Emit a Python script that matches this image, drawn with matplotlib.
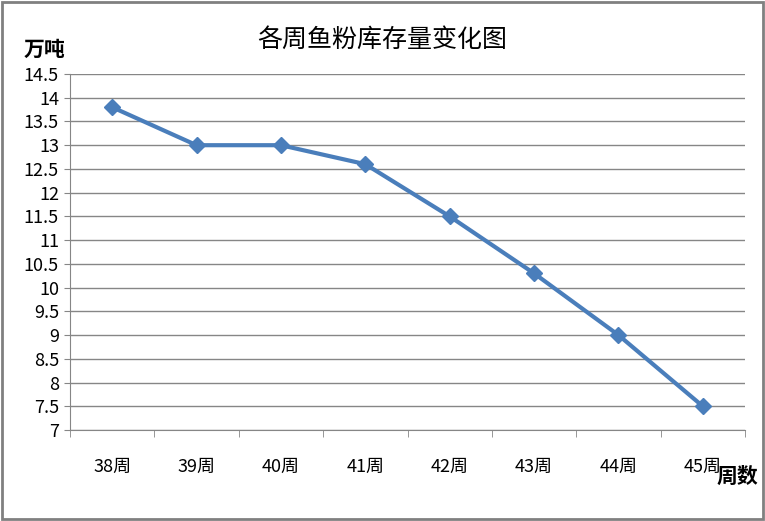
import numpy as np
import matplotlib.pyplot as plt
from matplotlib.patches import Rectangle

plt.rcParams['font.family'] = ['Noto Sans CJK SC', 'DejaVu Sans']

weeks = ["38周", "39周", "40周", "41周", "42周", "43周", "44周", "45周"]
stock = [13.8, 13.0, 13.0, 12.6, 11.5, 10.3, 9.0, 7.5]
yticks = np.arange(7, 14.51, 0.5)
ytick_labels = ["%g" % v for v in yticks]

fig = plt.figure(figsize=(7.65, 5.21), dpi=100)
ax = fig.add_axes([70/765, 91/521, 675/765, 356/521])

x = np.arange(len(weeks))
ax.plot(x, stock, color='#4A7EBB', lw=3, marker='D', ms=8,
        markerfacecolor='#4A7EBB', markeredgecolor='#4A7EBB', zorder=3)

ax.set_xlim(-0.5, len(weeks) - 0.5)
ax.set_ylim(7, 14.5)
ax.set_yticks(yticks)
ax.set_yticklabels(ytick_labels, fontsize=13)
ax.set_xticks(x)
ax.set_xticklabels(weeks, fontsize=13)
ax.set_xticks(np.arange(-0.5, len(weeks)), minor=True)
ax.tick_params(axis='x', which='major', length=0, pad=20)
ax.tick_params(axis='x', which='minor', length=5, color='#868686', direction='out')
ax.tick_params(axis='y', length=4, color='#868686', pad=4)

ax.grid(axis='y', color='#868686', lw=1)
ax.set_axisbelow(True)
for s in ['top', 'right']:
    ax.spines[s].set_visible(False)
ax.spines['left'].set_color('#868686')
ax.spines['bottom'].set_color('#868686')

fig.text(0.5, 1 - 40/521, "各周鱼粉库存量变化图", ha='center', va='center', fontsize=18)
fig.text(24/765, 1 - 49/521, "万吨", ha='left', va='center', fontsize=15, fontweight='bold')
fig.text(737/765, 1 - 476/521, "周数", ha='center', va='center', fontsize=15, fontweight='bold')

fig.patches.append(Rectangle((0.002, 0.003), 0.995, 0.994, transform=fig.transFigure,
                             fill=False, edgecolor='#808080', lw=2))

fig.savefig("out.png", dpi=100)
